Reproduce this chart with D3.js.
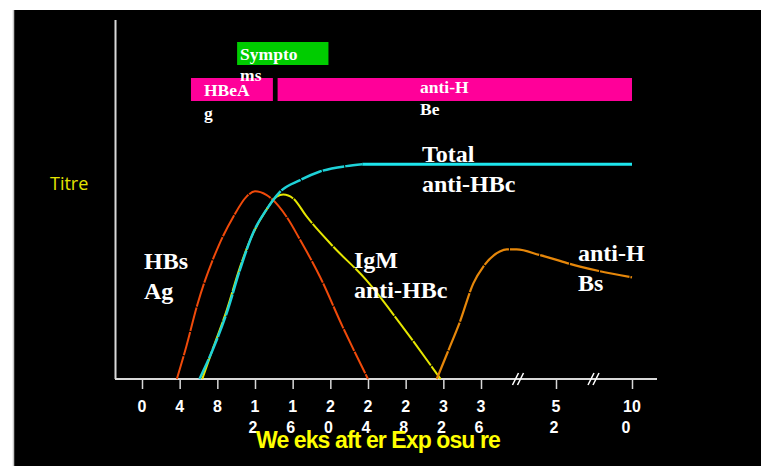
<!DOCTYPE html>
<html>
<head>
<meta charset="utf-8">
<script src="https://cdn.jsdelivr.net/npm/d3@7"></script>
<style>
  html, body { margin: 0; padding: 0; background: #ffffff; }
  svg { display: block; }
</style>
</head>
<body>
<svg id="chart" width="765" height="466"></svg>
<script>
// ---------- data (weeks after exposure, relative titre) ----------
const tickWeeks = [0, 4, 8, 12, 16, 20, 24, 28, 32, 36, 52, 100];
const tickLabels = [["0"], ["4"], ["8"], ["1", "2"], ["1", "6"], ["2", "0"], ["2", "4"], ["2", "8"], ["3", "2"], ["3", "6"], ["5", "2"], ["10", "0"]];
const breakWeeks = [44, 76];

const hbsagWeeks  = [3.7, 4.7, 5.9, 8.1, 9.7, 11.1, 12.0, 13.2, 15.35, 16.8, 18.9, 21.3, 24.0];
const hbsagTitre  = [0, 9.0, 20.9, 36.9, 45.2, 50.8, 52.3, 51.3, 45.2, 38.7, 28.5, 14.6, 0];

const totalWeeks  = [6.1, 7.5, 9.0, 10.4, 11.8, 13.2, 14.6, 16.8, 18.9, 21.7, 23.4];
const totalTitre  = [0, 8.1, 18.4, 30.4, 40.7, 47.1, 52.0, 55.4, 57.8, 59.3, 59.8];
const totalFlatWeeks = [23.4, 100];
const totalFlatTitre = [59.8, 59.8];

const igmWeeks    = [6.4, 7.6, 9.0, 10.4, 11.8, 13.2, 14.3, 15.0, 16.05, 17.5, 20.3, 23.8, 27.4, 31.7];
const igmTitre    = [0, 9.0, 19.2, 31.1, 40.6, 47.1, 50.8, 51.4, 50.3, 45.2, 36.9, 27.6, 15.5, 0];

const antiHBsWeeks = [31.3, 32.7, 33.7, 35.2, 36.5, 40.0, 41.5, 43.6, 48.6, 67.2, 100];
const antiHBsTitre = [0, 9.0, 15.5, 26.7, 31.3, 35.5, 36.1, 36.1, 34.5, 31.3, 28.3];

const barNames  = ["Symptoms", "HBeAg", "anti-HBe"];
const barStart  = [10.1, 5.2, 14.4];
const barEnd    = [19.8, 13.9, 100];
const barRow    = [0, 1, 1];
const barLines  = [["Sympto", "ms"], ["HBeA", "g"], ["anti-H", "Be"]];

const curveLabels = [["HBs", "Ag"], ["IgM", "anti-HBc"], ["Total", "anti-HBc"], ["anti-H", "Bs"]];

// ---------- drawing ----------
const svg = d3.select("#chart");

// background panel
svg.append("rect").attr("x", 14).attr("y", 10).attr("width", 747).attr("height", 456).attr("fill", "#000");
svg.append("line").attr("x1", 13.5).attr("x2", 13.5).attr("y1", 10).attr("y2", 466)
  .attr("stroke", "#c8c8c8").attr("stroke-width", 1.5);

const x = d3.scaleLinear().domain([0, 36, 52, 100]).range([142, 481, 556, 632]);
const y = d3.scaleLinear().domain([0, 100]).range([379, 20]);
const axisY = y(0);

// axes lines
svg.append("line").attr("x1", 115.5).attr("x2", 115.5).attr("y1", 20).attr("y2", axisY)
  .attr("stroke", "#d9d9d9").attr("stroke-width", 2);
svg.append("line").attr("x1", 115).attr("x2", 657).attr("y1", axisY).attr("y2", axisY)
  .attr("stroke", "#d9d9d9").attr("stroke-width", 2);

// ticks via d3 axis
const axis = d3.axisBottom(x).tickValues(tickWeeks).tickSize(10).tickFormat("");
const gAxis = svg.append("g").attr("transform", `translate(0,${axisY})`).call(axis);
gAxis.select(".domain").remove();
gAxis.selectAll(".tick line").attr("stroke", "#d9d9d9").attr("stroke-width", 1.5);

// tick labels (wrapped digits)
const tl = svg.append("g");
tickWeeks.forEach((w, i) => {
  const lines = tickLabels[i];
  const t = tl.append("text")
    .attr("x", x(w))
    .attr("y", 412)
    .attr("text-anchor", "middle")
    .attr("font-family", "Liberation Sans, Arial, sans-serif")
    .attr("font-weight", "bold")
    .attr("font-size", 16)
    .attr("fill", "#ffffff");
  lines.forEach((ln, j) => {
    t.append("tspan").attr("x", x(w) - (lines[0].length > 1 && j > 0 ? 4 : 0) - (j > 0 ? 2 : 0)).attr("dy", j === 0 ? 0 : 21).text(ln);
  });
});

// axis break marks
breakWeeks.forEach(w => {
  const cx = x(w);
  [-3, 2].forEach(off => {
    svg.append("line")
      .attr("x1", cx + off - 3).attr("y1", axisY + 6)
      .attr("x2", cx + off + 3).attr("y2", axisY - 6)
      .attr("stroke", "#ffffff").attr("stroke-width", 1.5);
  });
});

// curves
const line = d3.line().x(d => x(d[0])).y(d => y(d[1])).curve(d3.curveMonotoneX);
function drawCurve(ws, ts, color, width, dash) {
  const p = svg.append("path")
    .datum(ws.map((w, i) => [w, ts[i]]))
    .attr("d", line)
    .attr("fill", "none")
    .attr("stroke", color)
    .attr("stroke-width", width)
    .attr("stroke-linejoin", "round");
  if (dash) p.attr("stroke-dasharray", dash);
}
drawCurve(hbsagWeeks, hbsagTitre, "#f04a0a", 2, "24,1");
drawCurve(igmWeeks, igmTitre, "#e6e600", 2, "30,1");
drawCurve(totalWeeks, totalTitre, "#1ed2d8", 2.5, "22,1");
drawCurve(totalFlatWeeks, totalFlatTitre, "#1ee6ee", 3, null);
drawCurve(antiHBsWeeks, antiHBsTitre, "#e6870a", 2.2, "30,1");

// top bars
const rowTop = [42, 78];
const rowH = 23;
const barColor = ["#00cc00", "#ff0099", "#ff0099"];
barNames.forEach((n, i) => {
  svg.append("rect")
    .attr("x", x(barStart[i]))
    .attr("y", rowTop[barRow[i]])
    .attr("width", x(barEnd[i]) - x(barStart[i]))
    .attr("height", rowH)
    .attr("fill", barColor[i]);
});
const barText = svg.append("g");
const barTextX = [x(barStart[0]) + 3, x(barStart[1]) + 13, 420];
const barTextY = [60, 96, 93];
const barTextDy = [21, 23, 22];
barNames.forEach((n, i) => {
  const t = barText.append("text")
    .attr("font-family", "Liberation Serif, 'Times New Roman', serif")
    .attr("font-weight", "bold")
    .attr("font-size", 17.5)
    .attr("fill", "#ffffff");
  barLines[i].forEach((ln, j) => {
    t.append("tspan").attr("x", barTextX[i]).attr("y", barTextY[i] + j * barTextDy[i]).text(ln);
  });
});

// curve labels
const labX = [144, 354, 422, 578];
const labY = [269, 268, 162, 261];
curveLabels.forEach((lines, i) => {
  const t = svg.append("text")
    .attr("font-family", "Liberation Serif, 'Times New Roman', serif")
    .attr("font-weight", "bold")
    .attr("font-size", 24)
    .attr("fill", "#ffffff");
  lines.forEach((ln, j) => {
    t.append("tspan").attr("x", labX[i]).attr("y", labY[i] + j * 30).text(ln);
  });
});

// axis titles
svg.append("text")
  .attr("x", 50).attr("y", 190)
  .attr("font-family", "'Open Sans', 'Liberation Sans', sans-serif")
  .attr("font-size", 18)
  .attr("fill", "#e4e400")
  .text("Titre");

svg.append("text")
  .attr("x", 378).attr("y", 448)
  .attr("text-anchor", "middle")
  .attr("font-family", "'Liberation Sans', Arial, sans-serif")
  .attr("font-size", 23)
  .attr("font-weight", "bold")
  .attr("letter-spacing", -0.9)
  .attr("fill", "#ffff00")
  .style("white-space", "pre")
  .text("We eks aft er Exp osu re");
</script>
</body>
</html>
